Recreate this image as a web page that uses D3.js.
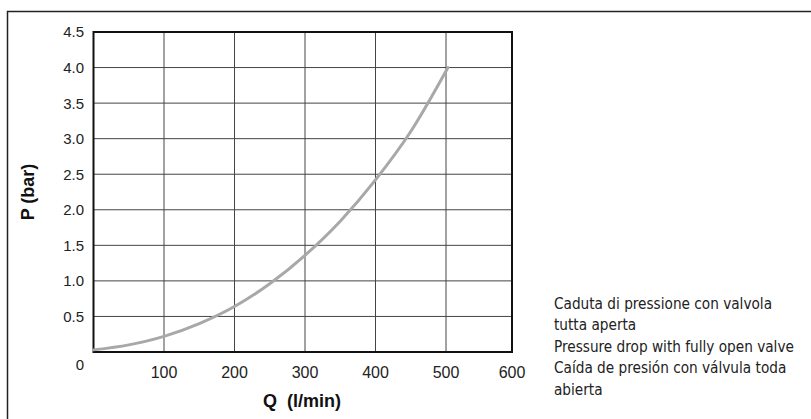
<!DOCTYPE html>
<html>
<head>
<meta charset="utf-8">
<script src="https://cdn.jsdelivr.net/npm/d3@7"></script>
<style>
  body { margin: 0; background: #fff; }
  svg { display: block; }
</style>
</head>
<body>
<div id="chart"></div>
<script>
// valeurs
const flow = [0, 50, 100, 150, 200, 250, 300, 350, 400, 450, 503]
const pressure = [0.03, 0.1, 0.22, 0.4, 0.64, 0.96, 1.36, 1.84, 2.42, 3.1, 4.0]
const xTicks = [100, 200, 300, 400, 500, 600]
const yTicks = [0.5, 1.0, 1.5, 2.0, 2.5, 3.0, 3.5, 4.0, 4.5]
const legendLines = [
  'Caduta di pressione con valvola',
  'tutta aperta',
  'Pressure drop with fully open valve',
  'Caída de presión con válvula toda',
  'abierta'
]

const W = 811, H = 419
const svg = d3.select('#chart').append('svg')
  .attr('width', W)
  .attr('height', H)

// cadre extérieur
svg.append('rect')
  .attr('x', 7.5).attr('y', 11.5)
  .attr('width', 900).attr('height', 600)
  .attr('fill', 'none')
  .attr('stroke', '#222')
  .attr('stroke-width', 1.5)

const x = d3.scaleLinear().domain([0, 500, 600]).range([93.5, 446, 512])
const y = d3.scaleLinear().domain([0, 4.5]).range([352, 32])

// grille
svg.selectAll('.vgrid')
  .data(xTicks.slice(0, -1))
  .enter()
  .append('line')
  .attr('class', 'vgrid')
  .attr('x1', d => x(d)).attr('x2', d => x(d))
  .attr('y1', y(0)).attr('y2', y(4.5))
  .attr('stroke', '#444')
  .attr('stroke-width', 1)

svg.selectAll('.hgrid')
  .data(yTicks.slice(0, -1))
  .enter()
  .append('line')
  .attr('class', 'hgrid')
  .attr('x1', x(0)).attr('x2', x(600))
  .attr('y1', d => y(d)).attr('y2', d => y(d))
  .attr('stroke', '#444')
  .attr('stroke-width', 1)

svg.append('rect')
  .attr('x', x(0)).attr('y', y(4.5))
  .attr('width', x(600) - x(0))
  .attr('height', y(0) - y(4.5))
  .attr('fill', 'none')
  .attr('stroke', '#111')
  .attr('stroke-width', 2)

// courbe
const line = d3.line()
  .x((d, i) => x(flow[i]))
  .y(d => y(d))
  .curve(d3.curveMonotoneX)

svg.append('path')
  .datum(pressure)
  .attr('d', line)
  .attr('fill', 'none')
  .attr('stroke', '#a8a8a8')
  .attr('stroke-width', 3)
  .attr('stroke-linecap', 'round')

// axes
const tickFont = '"Liberation Sans", Arial, sans-serif'

svg.selectAll('.ylab')
  .data(yTicks)
  .enter()
  .append('text')
  .attr('x', 84)
  .attr('y', d => y(d))
  .attr('dy', '0.36em')
  .attr('text-anchor', 'end')
  .attr('font-family', tickFont)
  .attr('font-size', 15)
  .attr('fill', '#222')
  .text(d => d.toFixed(1))

svg.append('text')
  .attr('x', 84)
  .attr('y', y(0) + 13)
  .attr('dy', '0.36em')
  .attr('text-anchor', 'end')
  .attr('font-family', tickFont)
  .attr('font-size', 15)
  .attr('fill', '#222')
  .text('0')

svg.selectAll('.xlab')
  .data(xTicks)
  .enter()
  .append('text')
  .attr('x', d => x(d))
  .attr('y', 372)
  .attr('dy', '0.36em')
  .attr('text-anchor', 'middle')
  .attr('font-family', tickFont)
  .attr('font-size', 16)
  .attr('fill', '#222')
  .text(d => d)

svg.append('text')
  .attr('x', 302)
  .attr('y', 401)
  .attr('dy', '0.36em')
  .attr('text-anchor', 'middle')
  .attr('font-family', tickFont)
  .attr('font-size', 18)
  .attr('font-weight', 'bold')
  .attr('fill', '#111')
  .attr('xml:space', 'preserve')
  .text('Q  (l/min)')

svg.append('text')
  .attr('transform', 'translate(27.5,192) rotate(-90)')
  .attr('dy', '0.36em')
  .attr('text-anchor', 'middle')
  .attr('font-family', tickFont)
  .attr('font-size', 18)
  .attr('font-weight', 'bold')
  .attr('fill', '#111')
  .text('P (bar)')

// légende
svg.selectAll('.legend')
  .data(legendLines)
  .enter()
  .append('text')
  .attr('class', 'legend')
  .attr('x', 554)
  .attr('y', (d, i) => 303.5 + i * 21.4)
  .attr('dy', '0.36em')
  .attr('font-family', '"DejaVu Sans Condensed", "DejaVu Sans", sans-serif')
  .attr('font-stretch', 'condensed')
  .attr('font-size', 15.2)
  .attr('fill', '#222')
  .text(d => d)
</script>
</body>
</html>
